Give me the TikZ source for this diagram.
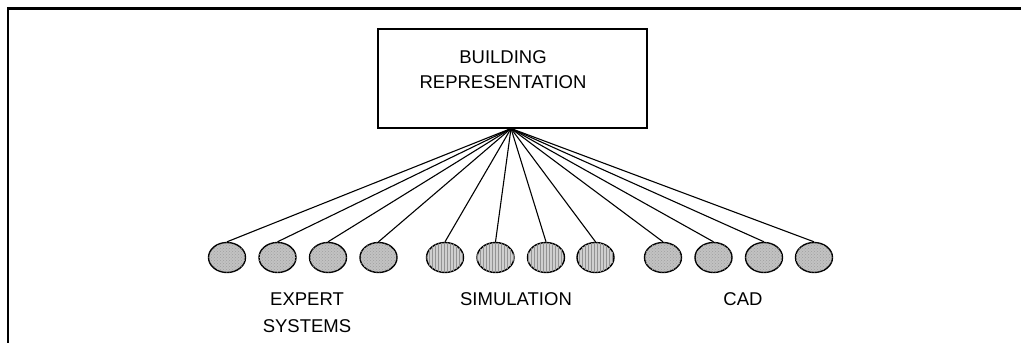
\documentclass[tikz,border=0pt]{standalone}
\usepackage{fontspec}
\setmainfont{Liberation Sans}
\usetikzlibrary{patterns,shapes.geometric}
\begin{document}
\begin{tikzpicture}[x=1pt,y=-1pt,
  every node/.style={font=\fontsize{18.5}{25}\selectfont, inner sep=0pt},
  mainbox/.style={draw, line width=1.3pt, minimum width=269pt, minimum height=99pt},
  leaf/.style={draw, ellipse, line width=1.4pt, minimum width=37pt, minimum height=30pt},
  dotted leaf/.style={leaf, fill=gray!48, postaction={pattern=crosshatch dots, pattern color=gray!75}},
  striped leaf/.style={leaf, fill=gray!38, postaction={pattern=vertical lines, pattern color=gray!85}},
  link/.style={line width=1.1pt},
  label/.style={align=center}]
\useasboundingbox (0,0) rectangle (1021,343);
% outer frame: top and left edges only
\draw[line width=2.6pt] (8,343) -- (8,8.7) -- (1021,8.7);

% central representation
\node[mainbox] (rep) at (512.5,78.5) {};
\node[label, font=\fontsize{18.5}{25}\selectfont] (reptext) at (503,69.5) {BUILDING\\REPRESENTATION};
\coordinate (hub) at (511,128.5);

% application groups
\foreach \i/\x in {1/227,2/277.5,3/328,4/378.5}
  \node[dotted leaf] (e\i) at (\x,257.5) {};
\foreach \i/\x in {1/445,2/495.5,3/546,4/595.5}
  \node[striped leaf] (s\i) at (\x,257.5) {};
\foreach \i/\x in {1/663,2/713.5,3/764,4/814}
  \node[dotted leaf] (c\i) at (\x,257.5) {};

\foreach \n in {e1,e2,e3,e4,s1,s2,s3,s4,c1,c2,c3,c4}
  \draw[link] (hub) -- (\n.north);

\node[label, font=\fontsize{18.5}{27}\selectfont] (lexp) at (307,312.5) {EXPERT\\SYSTEMS};
\node[label] (lsim) at (516,299.5) {SIMULATION};
\node[label] (lcad) at (743,299.5) {CAD};
\end{tikzpicture}
\end{document}
